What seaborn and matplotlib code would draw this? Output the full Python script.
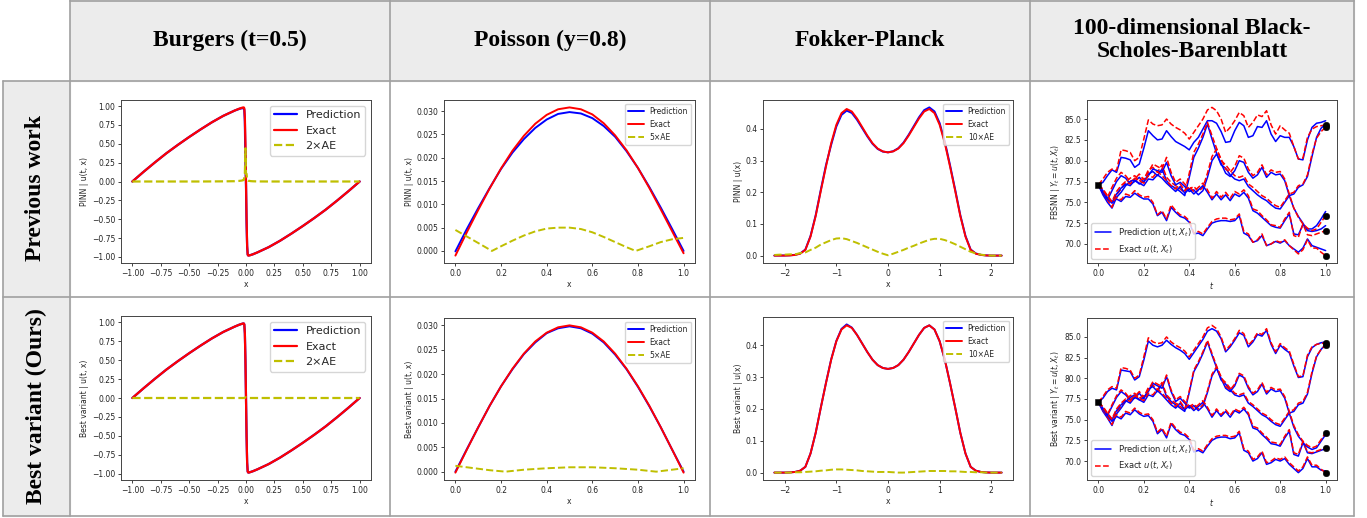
import numpy as np
import pandas as pd
import matplotlib.pyplot as plt
import seaborn as sns
from matplotlib.lines import Line2D
from matplotlib.patches import Rectangle

sns.set_style("ticks")
plt.rcParams["font.family"] = ["DejaVu Sans"]

W, H = 1367, 518

# ---------------- table text ----------------
col_titles = ["Burgers (t=0.5)", "Poisson (y=0.8)", "Fokker-Planck",
              "100-dimensional Black-\nScholes-Barenblatt"]
row_titles = ["Previous work", "Best variant (Ours)"]
row_prefix = ["PINN", "Best variant"]
bsb_prefix = ["FBSNN", "Best variant"]

# ---------------- Burgers (t=0.5) ----------------
burg_x = [-1.0, -0.9, -0.8, -0.7, -0.6, -0.5, -0.4, -0.3, -0.2, -0.1, -0.06, -0.04,
          -0.03, -0.02, -0.015, -0.01, -0.005, 0.0, 0.005, 0.01, 0.015, 0.02, 0.03,
          0.04, 0.06, 0.1, 0.2, 0.3, 0.4, 0.5, 0.6, 0.7, 0.8, 0.9, 1.0]
burg_exact = [0.0, 0.13, 0.255, 0.375, 0.485, 0.59, 0.69, 0.785, 0.87, 0.94, 0.965, 0.975,
              0.98, 0.982, 0.97, 0.85, 0.5, 0.0, -0.5, -0.85, -0.97, -0.982, -0.98,
              -0.975, -0.965, -0.94, -0.87, -0.785, -0.69, -0.59, -0.485, -0.375, -0.255, -0.13, 0.0]
burg_pred_prev = [0.0, 0.13, 0.255, 0.375, 0.485, 0.59, 0.69, 0.785, 0.87, 0.94, 0.962, 0.97,
                  0.972, 0.972, 0.95, 0.80, 0.28, -0.05, -0.55, -0.86, -0.97, -0.98, -0.978,
                  -0.975, -0.965, -0.94, -0.87, -0.785, -0.69, -0.59, -0.485, -0.375, -0.255, -0.13, 0.0]
burg_ae_prev = [0.0, 0.0, 0.0, 0.0, 0.0, 0.0, 0.0, 0.001, 0.002, 0.004, 0.008, 0.012,
                0.015, 0.02, 0.05, 0.1, 0.44, 0.1, 0.1, 0.02, 0.015, 0.01, 0.008,
                0.005, 0.003, 0.001, 0.0, 0.0, 0.0, 0.0, 0.0, 0.0, 0.0, 0.0, 0.0]
burg_pred_ours = burg_exact
burg_ae_ours = [0.0, 0.0, 0.0, 0.0, 0.0, 0.0, 0.0, 0.0, 0.0, 0.0, 0.0, 0.0,
                0.0, 0.0, 0.002, 0.004, 0.008, 0.01, 0.008, 0.004, 0.002, 0.0, 0.0,
                0.0, 0.0, 0.0, 0.0, 0.0, 0.0, 0.0, 0.0, 0.0, 0.0, 0.0, 0.0]

# ---------------- Poisson (y=0.8) ----------------
poi_x = [0.0, 0.05, 0.1, 0.15, 0.2, 0.25, 0.3, 0.35, 0.4, 0.45, 0.5,
         0.55, 0.6, 0.65, 0.7, 0.75, 0.8, 0.85, 0.9, 0.95, 1.0]
poi_exact_prev = [-0.0010, 0.0040, 0.0088, 0.0134, 0.0177, 0.0215, 0.0247, 0.0273, 0.0292, 0.0304, 0.0308,
                  0.0304, 0.0293, 0.0274, 0.0248, 0.0216, 0.0178, 0.0135, 0.0089, 0.0042, -0.0005]
poi_pred_prev = [-0.0001, 0.0047, 0.0092, 0.0135, 0.0176, 0.0211, 0.0240, 0.0264, 0.0282, 0.0294, 0.0298,
                 0.0295, 0.0285, 0.0268, 0.0245, 0.0214, 0.0178, 0.0137, 0.0093, 0.0047, 0.0000]
poi_ae_x_prev = [0.0, 0.05, 0.1, 0.16, 0.2, 0.25, 0.3, 0.35, 0.4, 0.45, 0.5,
                 0.55, 0.6, 0.65, 0.7, 0.75, 0.79, 0.85, 0.9, 0.95, 1.0]
poi_ae_prev = [0.0045, 0.0031, 0.0017, 0.0, 0.0010, 0.0022, 0.0033, 0.0042, 0.0048, 0.0050, 0.0050,
               0.0047, 0.0040, 0.0030, 0.0019, 0.0008, 0.0, 0.0010, 0.0019, 0.0025, 0.0028]
poi_exact_ours = [-0.0002, 0.0045, 0.0091, 0.0135, 0.0175, 0.0211, 0.0242, 0.0267, 0.0285, 0.0296, 0.0300,
                  0.0296, 0.0285, 0.0267, 0.0242, 0.0211, 0.0175, 0.0135, 0.0091, 0.0045, -0.0002]
poi_pred_ours = [0.0, 0.0046, 0.0091, 0.0135, 0.0175, 0.0210, 0.0241, 0.0265, 0.0284, 0.0294, 0.0298,
                 0.0294, 0.0283, 0.0265, 0.0240, 0.0210, 0.0174, 0.0134, 0.0091, 0.0045, 0.0]
poi_ae_x_ours = [0.0, 0.05, 0.1, 0.15, 0.22, 0.3, 0.4, 0.5, 0.6, 0.7, 0.8, 0.88, 0.95, 1.0]
poi_ae_ours = [0.0012, 0.0009, 0.0006, 0.0003, 0.0, 0.0004, 0.0007, 0.0009, 0.0009, 0.0007, 0.0004,
               0.0, 0.0004, 0.0007]

# ---------------- Fokker-Planck ----------------
fp_x = [-2.2, -2.1, -2.0, -1.9, -1.8, -1.7, -1.6, -1.5, -1.4, -1.3, -1.2, -1.1, -1.0, -0.9, -0.8,
        -0.7, -0.6, -0.5, -0.4, -0.3, -0.2, -0.1, 0.0, 0.1, 0.2, 0.3, 0.4, 0.5, 0.6, 0.7, 0.8,
        0.9, 1.0, 1.1, 1.2, 1.3, 1.4, 1.5, 1.6, 1.7, 1.8, 1.9, 2.0, 2.1, 2.2]
fp_exact = [0.0, 0.0, 0.0, 0.0005, 0.002, 0.006, 0.018, 0.060, 0.125, 0.205, 0.282, 0.355, 0.413, 0.450, 0.463,
            0.455, 0.433, 0.406, 0.379, 0.355, 0.338, 0.329, 0.326, 0.329, 0.338, 0.355, 0.379, 0.406, 0.433, 0.455, 0.463,
            0.450, 0.413, 0.355, 0.282, 0.205, 0.125, 0.060, 0.018, 0.006, 0.002, 0.0005, 0.0, 0.0, 0.0]
fp_pred_prev = [0.0002, 0.0003, 0.0003, 0.0009, 0.0024, 0.0068, 0.0190, 0.0618, 0.1275, 0.2085, 0.2862, 0.3501, 0.4076, 0.4445, 0.4578,
                0.4504, 0.4290, 0.4027, 0.3764, 0.3531, 0.3368, 0.3284, 0.3261, 0.3296, 0.3392, 0.3568, 0.3815, 0.4091, 0.4368, 0.4594, 0.4680,
                0.4553, 0.4183, 0.3599, 0.2863, 0.2086, 0.1278, 0.0620, 0.0192, 0.0067, 0.0023, 0.0006, 0.0, 0.0, 0.0]
fp_ae_prev = [0.002, 0.003, 0.003, 0.004, 0.004, 0.008, 0.010, 0.018, 0.025, 0.035, 0.042, 0.049, 0.054, 0.055, 0.052,
              0.046, 0.040, 0.033, 0.026, 0.019, 0.012, 0.006, 0.001, 0.006, 0.012, 0.018, 0.025, 0.031, 0.038, 0.044, 0.050,
              0.053, 0.053, 0.049, 0.043, 0.036, 0.028, 0.020, 0.012, 0.007, 0.003, 0.001, 0.0, 0.0, 0.0]
fp_pred_ours = [0.0, 0.0, 0.0, 0.0005, 0.002, 0.006, 0.018, 0.060, 0.125, 0.205, 0.283, 0.356, 0.414, 0.452, 0.466,
                0.456, 0.433, 0.406, 0.379, 0.355, 0.338, 0.329, 0.326, 0.329, 0.338, 0.355, 0.379, 0.406, 0.433, 0.455, 0.463,
                0.450, 0.413, 0.355, 0.282, 0.205, 0.125, 0.060, 0.018, 0.006, 0.002, 0.0005, 0.0, 0.0, 0.0]
fp_ae_ours = [0.0, 0.0, 0.0, 0.0, 0.001, 0.001, 0.002, 0.003, 0.004, 0.006, 0.007, 0.009, 0.010, 0.010, 0.009,
              0.008, 0.007, 0.005, 0.004, 0.003, 0.002, 0.002, 0.002, 0.001, 0.0, 0.0, 0.001, 0.002, 0.003, 0.004, 0.005,
              0.005, 0.005, 0.005, 0.004, 0.004, 0.003, 0.002, 0.002, 0.001, 0.001, 0.0, 0.0, 0.0, 0.0]

# ---------------- Black-Scholes-Barenblatt sample paths ----------------
bsb_t = [0.00, 0.02, 0.04, 0.06, 0.08, 0.10, 0.12, 0.14, 0.16, 0.18,
         0.20, 0.22, 0.24, 0.26, 0.28, 0.30, 0.32, 0.34, 0.36, 0.38,
         0.40, 0.42, 0.44, 0.46, 0.48, 0.50, 0.52, 0.54, 0.56, 0.58,
         0.60, 0.62, 0.64, 0.66, 0.68, 0.70, 0.72, 0.74, 0.76, 0.78,
         0.80, 0.82, 0.84, 0.86, 0.88, 0.90, 0.92, 0.94, 0.96, 0.98, 1.00]

exact_1 = [77.1, 77.8, 78.6, 79.0, 78.8, 81.3, 81.2, 81.0, 80.0, 80.4,
           82.6, 84.9, 84.4, 84.2, 84.3, 85.0, 84.4, 84.0, 83.7, 83.3,
           82.6, 83.4, 84.2, 85.0, 86.1, 86.4, 86.0, 85.0, 83.4, 84.0,
           84.8, 85.8, 85.4, 84.0, 84.6, 85.5, 85.3, 86.0, 84.3, 83.2,
           84.2, 83.7, 83.3, 81.7, 80.2, 80.3, 82.8, 83.8, 84.1, 84.2, 84.3]
exact_2 = [77.1, 76.4, 75.6, 76.8, 77.9, 78.6, 78.2, 77.5, 77.8, 78.4,
           77.7, 78.9, 79.2, 78.6, 79.5, 78.0, 77.4, 77.0, 76.6, 76.2,
           78.5, 81.0, 82.0, 83.2, 84.6, 83.0, 81.5, 80.0, 79.5, 78.8,
           78.2, 78.0, 78.2, 77.2, 76.8, 76.3, 75.8, 75.5, 75.0, 74.6,
           74.4, 75.2, 76.0, 76.2, 77.0, 77.2, 78.3, 80.8, 82.7, 83.5, 84.0]
exact_3 = [77.1, 76.2, 75.3, 74.4, 75.9, 76.6, 77.4, 77.9, 78.2, 77.6,
           77.9, 78.6, 79.6, 79.3, 79.0, 80.4, 78.6, 77.4, 77.8, 77.2,
           76.6, 76.9, 76.3, 76.8, 78.5, 80.5, 81.4, 80.2, 79.0, 78.6,
           79.3, 80.6, 80.3, 79.0, 78.2, 78.6, 79.5, 78.3, 78.9, 78.6,
           78.7, 77.8, 76.0, 74.3, 73.2, 72.4, 71.1, 71.0, 71.2, 71.4, 71.6]
exact_4 = [77.1, 76.6, 75.8, 75.1, 76.3, 77.0, 77.5, 77.2, 77.9, 77.6,
           77.3, 78.2, 78.0, 78.7, 78.2, 77.6, 77.0, 76.6, 77.2, 76.4,
           76.9, 76.3, 76.8, 77.3, 76.5, 75.5, 76.3, 75.6, 76.2, 75.5,
           76.3, 76.0, 76.5, 75.8, 74.2, 74.0, 73.4, 72.9, 72.3, 72.2,
           72.0, 73.0, 73.8, 71.0, 70.8, 72.4, 71.9, 71.6, 71.8, 72.6, 73.4]
exact_5 = [77.1, 76.5, 75.7, 75.0, 75.6, 75.3, 76.0, 75.8, 76.4, 75.9,
           75.6, 75.7, 75.0, 73.5, 74.0, 73.0, 74.7, 74.0, 73.5, 73.3,
           72.8, 71.3, 71.5, 71.2, 72.0, 72.7, 73.0, 73.1, 73.1, 72.9,
           73.0, 73.6, 71.5, 71.2, 70.2, 70.5, 71.2, 69.8, 70.0, 70.4,
           70.2, 70.5, 69.8, 69.3, 68.8, 69.3, 70.5, 69.5, 69.5, 69.0, 68.6]

pred_prev_1 = [77.1, 77.4, 78.2, 78.9, 78.6, 80.4, 80.3, 80.1, 79.2, 79.6,
               81.5, 83.6, 83.0, 82.5, 82.6, 83.6, 82.9, 82.3, 82.0, 81.7,
               81.3, 82.2, 82.8, 83.8, 84.8, 84.8, 84.5, 83.5, 82.2, 82.3,
               83.6, 84.6, 84.2, 82.8, 83.0, 84.1, 84.0, 84.8, 83.2, 82.3,
               83.0, 82.8, 82.8, 81.7, 80.2, 80.1, 82.5, 84.0, 84.5, 84.6, 84.8]
pred_prev_2 = [77.1, 76.1, 75.3, 76.4, 77.5, 78.2, 77.9, 77.2, 77.5, 78.0,
               77.4, 78.4, 78.7, 78.2, 79.0, 77.6, 77.0, 76.7, 76.3, 75.8,
               78.0, 80.4, 81.5, 82.8, 84.4, 82.6, 80.9, 79.5, 79.1, 78.3,
               77.8, 77.6, 77.8, 76.9, 76.4, 75.9, 75.5, 75.2, 74.7, 74.3,
               74.2, 75.0, 75.8, 76.0, 76.8, 77.1, 78.1, 80.5, 82.8, 83.9, 84.4]
pred_prev_3 = [77.1, 75.9, 75.0, 74.3, 75.6, 76.2, 77.0, 77.5, 77.7, 77.2,
               77.5, 78.2, 79.0, 78.8, 78.6, 79.8, 78.2, 77.1, 77.4, 76.9,
               76.3, 76.5, 75.9, 76.4, 78.0, 80.0, 80.8, 79.7, 78.5, 78.1,
               78.8, 80.0, 79.8, 78.6, 77.9, 78.3, 79.2, 78.0, 78.6, 78.3,
               78.4, 77.6, 75.8, 74.3, 73.3, 72.5, 71.6, 71.5, 71.6, 71.8, 72.2]
pred_prev_4 = [77.1, 76.4, 75.5, 75.0, 76.0, 76.7, 77.2, 77.0, 77.6, 77.3,
               77.0, 77.8, 77.7, 78.3, 77.9, 77.3, 76.8, 76.3, 76.9, 76.1,
               76.6, 76.0, 76.5, 77.0, 76.2, 75.3, 76.0, 75.3, 75.9, 75.2,
               76.0, 75.7, 76.2, 75.5, 74.0, 73.7, 73.2, 72.7, 72.2, 72.0,
               71.9, 72.8, 73.6, 71.2, 71.1, 72.3, 71.8, 71.8, 72.2, 73.0, 73.9]
pred_prev_5 = [77.1, 76.2, 75.4, 74.9, 75.4, 75.1, 75.7, 75.6, 76.1, 75.7,
               75.4, 75.4, 74.8, 73.4, 73.8, 72.8, 74.4, 73.8, 73.3, 73.1,
               72.6, 71.2, 71.3, 71.0, 71.8, 72.5, 72.7, 72.8, 72.8, 72.7,
               72.8, 73.4, 71.3, 71.0, 70.2, 70.4, 71.0, 69.8, 70.0, 70.3,
               70.1, 70.4, 69.8, 69.4, 69.0, 69.5, 70.6, 69.8, 69.6, 69.4, 69.2]

pred_ours_1 = [77.1, 77.6, 78.4, 78.8, 78.6, 81.0, 80.9, 80.8, 79.8, 80.2,
               82.2, 84.5, 84.0, 83.8, 84.0, 84.6, 84.1, 83.7, 83.4, 83.0,
               82.3, 83.1, 83.9, 84.7, 85.7, 86.0, 85.7, 84.8, 83.2, 83.8,
               84.6, 85.5, 85.2, 83.8, 84.4, 85.3, 85.1, 85.8, 84.1, 83.0,
               84.0, 83.5, 83.1, 81.5, 80.1, 80.2, 82.6, 83.7, 84.1, 84.3, 84.4]
pred_ours_2 = [77.1, 76.2, 75.5, 76.6, 77.7, 78.4, 78.0, 77.4, 77.6, 78.2,
               77.5, 78.7, 79.0, 78.4, 79.3, 77.8, 77.2, 76.8, 76.4, 76.0,
               78.3, 80.8, 81.8, 83.0, 84.4, 82.8, 81.3, 79.8, 79.3, 78.6,
               78.0, 77.8, 78.0, 77.0, 76.6, 76.1, 75.6, 75.3, 74.8, 74.4,
               74.2, 75.0, 75.8, 76.0, 76.8, 77.0, 78.1, 80.6, 82.6, 83.5, 84.1]
pred_ours_3 = [77.1, 76.0, 75.2, 74.3, 75.7, 76.4, 77.2, 77.7, 78.0, 77.4,
               77.7, 78.4, 79.4, 79.1, 78.8, 80.2, 78.4, 77.2, 77.6, 77.0,
               76.4, 76.7, 76.1, 76.6, 78.3, 80.3, 81.2, 80.0, 78.8, 78.4,
               79.1, 80.4, 80.1, 78.8, 78.0, 78.4, 79.3, 78.1, 78.7, 78.4,
               78.5, 77.6, 75.8, 74.1, 73.0, 72.3, 71.0, 70.9, 71.1, 71.3, 71.5]
pred_ours_4 = [77.1, 76.4, 75.6, 75.0, 76.1, 76.8, 77.3, 77.0, 77.7, 77.4,
               77.1, 78.0, 77.8, 78.5, 78.0, 77.4, 76.8, 76.4, 77.0, 76.2,
               76.7, 76.1, 76.6, 77.1, 76.3, 75.3, 76.1, 75.4, 76.0, 75.3,
               76.1, 75.8, 76.3, 75.6, 74.0, 73.8, 73.2, 72.7, 72.1, 72.0,
               71.8, 72.8, 73.6, 70.8, 70.6, 72.2, 71.7, 71.4, 71.6, 72.4, 73.2]
pred_ours_5 = [77.1, 76.3, 75.5, 74.8, 75.4, 75.1, 75.8, 75.6, 76.2, 75.7,
               75.4, 75.5, 74.8, 73.3, 73.8, 72.8, 74.5, 73.8, 73.3, 73.1,
               72.6, 71.1, 71.3, 71.0, 71.8, 72.5, 72.8, 72.9, 72.9, 72.7,
               72.8, 73.4, 71.3, 71.0, 70.0, 70.3, 71.0, 69.6, 69.8, 70.2,
               70.0, 70.3, 69.6, 69.1, 68.6, 69.1, 70.3, 69.3, 69.3, 68.9, 68.8]

exact_paths = [exact_1, exact_2, exact_3, exact_4, exact_5]
pred_paths = [[pred_prev_1, pred_prev_2, pred_prev_3, pred_prev_4, pred_prev_5],
              [pred_ours_1, pred_ours_2, pred_ours_3, pred_ours_4, pred_ours_5]]

# ---------------- figure / table ----------------
fig = plt.figure(figsize=(W / 100, H / 100), dpi=100)
grid_c = "#a0a0a0"
cell_bg = "#ececec"
serif = dict(family="Liberation Serif", weight="bold", fontsize=17, color="black")


def fx(px):
    return px / W


def fy(py):
    return 1 - py / H


def px_axes(l, t, r, b):
    return fig.add_axes([fx(l), fy(b), (r - l) / W, (b - t) / H])


# header and row-label backgrounds
fig.add_artist(Rectangle((fx(70), fy(81)), fx(1354) - fx(70), fy(0) - fy(81),
                         transform=fig.transFigure, color=cell_bg, zorder=0))
fig.add_artist(Rectangle((fx(3), fy(516)), fx(70) - fx(3), fy(81) - fy(516),
                         transform=fig.transFigure, color=cell_bg, zorder=0))


def hline(y, x0, x1):
    fig.add_artist(Line2D([fx(x0), fx(x1)], [fy(y), fy(y)], transform=fig.transFigure,
                          color=grid_c, lw=1.2, zorder=1))


def vline(x, y0, y1):
    fig.add_artist(Line2D([fx(x), fx(x)], [fy(y0), fy(y1)], transform=fig.transFigure,
                          color=grid_c, lw=1.2, zorder=1))


hline(0.5, 70, 1354)
for y in [81, 297, 516]:
    hline(y, 3, 1354)
vline(3, 81, 516)
for x in [70, 390, 710, 1030, 1354]:
    vline(x, 0, 516)

col_cx = [230, 550, 870, 1192]
for cx, title in zip(col_cx, col_titles):
    fig.text(fx(cx), fy(40), title, ha="center", va="center", linespacing=1.1, **serif)
for cy, title in zip([188, 406], row_titles):
    fig.text(fx(36), fy(cy), title, ha="center", va="center", rotation=90, **serif)


def style(ax, ylabel, xlabel):
    ax.set_ylabel(ylabel, fontsize=5.5, labelpad=2)
    ax.set_xlabel(xlabel, fontsize=5.5, labelpad=2)
    ax.tick_params(labelsize=5.5, length=2.5, width=0.6, pad=1.5, colors="#222222")
    for s in ax.spines.values():
        s.set_linewidth(0.7)
        s.set_color("#444444")


def line(ax, x, y, color, ls="-", lw=1.5, label=None):
    sns.lineplot(x=x, y=y, ax=ax, color=color, linestyle=ls, lw=lw, label=label,
                 estimator=None, sort=False, legend=False)


# axes boxes in pixels: (left, top, right, bottom)
boxes = [
    [(121, 100, 371, 263), (444, 100, 695, 263), (763, 100, 1013, 263), (1087, 100, 1337, 263)],
    [(121, 316, 371, 480), (444, 318, 695, 480), (763, 317, 1013, 480), (1087, 318, 1337, 480)],
]

burg_sets = [(burg_pred_prev, burg_ae_prev), (burg_pred_ours, burg_ae_ours)]
poi_sets = [(poi_exact_prev, poi_pred_prev, poi_ae_x_prev, poi_ae_prev),
            (poi_exact_ours, poi_pred_ours, poi_ae_x_ours, poi_ae_ours)]
fp_sets = [(fp_pred_prev, fp_ae_prev), (fp_pred_ours, fp_ae_ours)]

for r in range(2):
    # Burgers
    ax = px_axes(*boxes[r][0])
    pred, ae = burg_sets[r]
    line(ax, burg_x, pred, "b", lw=1.6, label="Prediction")
    line(ax, burg_x, burg_exact, "r", lw=1.6, label="Exact")
    line(ax, burg_x, ae, "y", ls="--", lw=1.6, label="2\u00d7AE")
    ax.set_xticks([-1.0, -0.75, -0.5, -0.25, 0.0, 0.25, 0.5, 0.75, 1.0])
    ax.set_yticks([-1.0, -0.75, -0.5, -0.25, 0.0, 0.25, 0.5, 0.75, 1.0])
    ax.set_xticklabels([f"{v:.2f}".replace("-", "\u2212") for v in ax.get_xticks()])
    ax.set_yticklabels([f"{v:.2f}".replace("-", "\u2212") for v in ax.get_yticks()])
    style(ax, f"{row_prefix[r]} | u(t, x)", "x")
    ax.legend(loc="upper right", fontsize=8, handlelength=2.0)

    # Poisson
    ax = px_axes(*boxes[r][1])
    ex, pr, aex, ae = poi_sets[r]
    line(ax, poi_x, pr, "b", lw=1.4, label="Prediction")
    line(ax, poi_x, ex, "r", lw=1.4, label="Exact")
    line(ax, aex, ae, "y", ls="--", lw=1.4, label="5\u00d7AE")
    ax.set_xticks([0.0, 0.2, 0.4, 0.6, 0.8, 1.0])
    ax.set_yticks([0.0, 0.005, 0.010, 0.015, 0.020, 0.025, 0.030])
    ax.yaxis.set_major_formatter(plt.FormatStrFormatter("%.3f"))
    style(ax, f"{row_prefix[r]} | u(t, x)", "x")
    ax.legend(loc="upper right", fontsize=5.5, handlelength=2.0)

    # Fokker-Planck
    ax = px_axes(*boxes[r][2])
    pr, ae = fp_sets[r]
    line(ax, fp_x, pr, "b", lw=1.4, label="Prediction")
    line(ax, fp_x, fp_exact, "r", lw=1.4, label="Exact")
    line(ax, fp_x, ae, "y", ls="--", lw=1.4, label="10\u00d7AE")
    ax.set_xticks([-2, -1, 0, 1, 2])
    ax.set_yticks([0.0, 0.1, 0.2, 0.3, 0.4])
    ax.set_xticklabels(["\u22122", "\u22121", "0", "1", "2"])
    style(ax, f"{row_prefix[r]} | u(x)", "x")
    ax.legend(loc="upper right", fontsize=5.5, handlelength=2.0)

    # Black-Scholes-Barenblatt
    ax = px_axes(*boxes[r][3])
    for i, (ex, pr) in enumerate(zip(exact_paths, pred_paths[r])):
        line(ax, bsb_t, pr, "b", lw=1.1, label=r"Prediction $u(t, X_t)$" if i == 0 else None)
        line(ax, bsb_t, ex, "r", ls="--", lw=1.1, label=r"Exact $u(t, X_t)$" if i == 0 else None)
    sns.scatterplot(x=[bsb_t[0]], y=[exact_1[0]], ax=ax, marker="s", color="k", s=22,
                    edgecolor="k", zorder=5, legend=False)
    sns.scatterplot(x=[bsb_t[-1]] * 5, y=[p[-1] for p in exact_paths], ax=ax, marker="o",
                    color="k", s=22, edgecolor="k", zorder=5, legend=False)
    ax.set_xticks([0.0, 0.2, 0.4, 0.6, 0.8, 1.0])
    ax.set_yticks([70.0, 72.5, 75.0, 77.5, 80.0, 82.5, 85.0])
    ax.yaxis.set_major_formatter(plt.FormatStrFormatter("%.1f"))
    style(ax, f"{bsb_prefix[r]} | $Y_t = u(t, X_t)$", "$t$")
    ax.legend(loc="lower left", fontsize=6, handlelength=2.0)

fig.savefig("out.png", dpi=100)
